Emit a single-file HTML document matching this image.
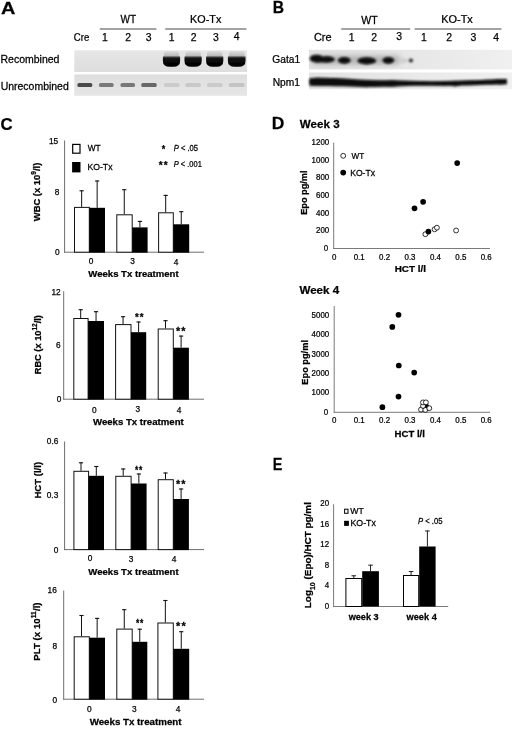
<!DOCTYPE html>
<html><head><meta charset="utf-8"><style>
html,body{margin:0;padding:0;background:#fff;}
body{width:520px;height:734px;overflow:hidden;}
svg{display:block;filter:grayscale(1) blur(0.3px);}
text{font-family:"Liberation Sans", sans-serif;fill:#000;stroke:#000;stroke-width:0.25px;}
</style></head><body>
<svg width="520" height="734" viewBox="0 0 520 734">
<defs>
<filter id="b1" x="-20%" y="-20%" width="140%" height="140%"><feGaussianBlur stdDeviation="0.75"/></filter>
<filter id="b2" x="-20%" y="-80%" width="140%" height="260%"><feGaussianBlur stdDeviation="0.65"/></filter>
<filter id="b3" x="-10%" y="-60%" width="120%" height="220%"><feGaussianBlur stdDeviation="1.1"/></filter>
<filter id="b4" x="-20%" y="-100%" width="140%" height="300%"><feGaussianBlur stdDeviation="2.5"/></filter>
<linearGradient id="bandTop" x1="0" y1="0" x2="0" y2="1">
<stop offset="0" stop-color="#dcdcdc"/><stop offset="0.5" stop-color="#c0c0c0"/><stop offset="1" stop-color="#7a7a7a"/></linearGradient>
<linearGradient id="bandBot" x1="0" y1="0" x2="0" y2="1">
<stop offset="0" stop-color="#484848"/><stop offset="0.22" stop-color="#0c0c0c"/><stop offset="1" stop-color="#000"/></linearGradient>
<linearGradient id="gelA1" x1="0" y1="0" x2="0" y2="1"><stop offset="0" stop-color="#e6e6e6"/><stop offset="1" stop-color="#dedede"/></linearGradient>
<linearGradient id="gelA2" x1="0" y1="0" x2="0" y2="1"><stop offset="0" stop-color="#dedede"/><stop offset="1" stop-color="#e6e6e6"/></linearGradient>
<linearGradient id="blot1" x1="0" y1="0" x2="1" y2="0"><stop offset="0" stop-color="#e0e0e0"/><stop offset="0.45" stop-color="#e6e6e6"/><stop offset="1" stop-color="#f0f0f0"/></linearGradient>
<linearGradient id="blot2" x1="0" y1="0" x2="1" y2="0"><stop offset="0" stop-color="#e2e2e2"/><stop offset="0.45" stop-color="#e8e8e8"/><stop offset="1" stop-color="#f0f0f0"/></linearGradient>
</defs>
<line x1="99.8" y1="29.0" x2="156.4" y2="29.0" stroke="#858585" stroke-width="1.4"/>
<line x1="165.2" y1="29.0" x2="246.4" y2="29.0" stroke="#858585" stroke-width="1.4"/>
<rect x="74.3" y="50.3" width="172.7" height="21.7" fill="url(#gelA1)"/>
<rect x="74.3" y="74.4" width="172.7" height="21.4" fill="url(#gelA2)"/>
<g filter="url(#b1)"><rect x="163.79999999999998" y="51.2" width="15.400000000000023" height="8" rx="2.5" fill="url(#bandTop)"/><path d="M162.89999999999998 56.6 h17.200000000000024 v4.4 q0 5.8 -6.8 5.8 h-3.6000000000000227 q-6.8 0 -6.8 -5.8 z" fill="url(#bandBot)"/></g>
<g filter="url(#b1)"><rect x="185.4" y="51.2" width="15.399999999999995" height="8" rx="2.5" fill="url(#bandTop)"/><path d="M184.5 56.6 h17.199999999999996 v4.4 q0 5.8 -6.8 5.8 h-3.5999999999999943 q-6.8 0 -6.8 -5.8 z" fill="url(#bandBot)"/></g>
<g filter="url(#b1)"><rect x="207.0" y="51.2" width="15.399999999999995" height="8" rx="2.5" fill="url(#bandTop)"/><path d="M206.1 56.6 h17.199999999999996 v4.4 q0 5.8 -6.8 5.8 h-3.5999999999999943 q-6.8 0 -6.8 -5.8 z" fill="url(#bandBot)"/></g>
<g filter="url(#b1)"><rect x="228.79999999999998" y="51.2" width="15.8" height="8" rx="2.5" fill="url(#bandTop)"/><path d="M227.89999999999998 56.6 h17.6 v4.4 q0 5.8 -6.8 5.8 h-4.0 q-6.8 0 -6.8 -5.8 z" fill="url(#bandBot)"/></g>
<rect x="77.4" y="83.0" width="14.899999999999991" height="4.0" rx="1.6" fill="#4c4c4c" filter="url(#b2)"/>
<rect x="99" y="83.0" width="14.599999999999994" height="4.0" rx="1.6" fill="#7a7a7a" filter="url(#b2)"/>
<rect x="120.5" y="83.0" width="14.5" height="4.0" rx="1.6" fill="#787878" filter="url(#b2)"/>
<rect x="141.3" y="83.0" width="15.399999999999977" height="4.0" rx="1.6" fill="#686868" filter="url(#b2)"/>
<rect x="164" y="83.0" width="15.5" height="4.0" rx="1.6" fill="#cbcbcb" filter="url(#b2)"/>
<rect x="185.5" y="83.0" width="15.300000000000011" height="4.0" rx="1.6" fill="#c8c8c8" filter="url(#b2)"/>
<rect x="207" y="83.0" width="15.599999999999994" height="4.0" rx="1.6" fill="#cacaca" filter="url(#b2)"/>
<rect x="228.8" y="83.0" width="15.799999999999983" height="4.0" rx="1.6" fill="#c4c4c4" filter="url(#b2)"/>
<line x1="341.2" y1="29.0" x2="410.2" y2="29.0" stroke="#858585" stroke-width="1.4"/>
<line x1="414.6" y1="29.0" x2="501.5" y2="29.0" stroke="#858585" stroke-width="1.4"/>
<rect x="309" y="49.8" width="203" height="19.6" fill="url(#blot1)"/>
<rect x="309" y="72.5" width="203" height="16.7" fill="url(#blot2)"/>
<g filter="url(#b4)" fill="#b4b4b4"><rect x="312" y="55.5" width="88" height="9" rx="4"/></g>
<g filter="url(#b3)" fill="#080808"><ellipse cx="316.5" cy="58.6" rx="6.8" ry="3.9"/><ellipse cx="327.5" cy="59.4" rx="7.2" ry="3.1"/><rect x="316" y="56.6" width="12" height="5.8"/><ellipse cx="344.3" cy="60.4" rx="6.3" ry="3.3"/><ellipse cx="366.8" cy="60.8" rx="9.4" ry="3.6"/><ellipse cx="388.3" cy="60.3" rx="5.8" ry="3.4"/><ellipse cx="410.8" cy="60.4" rx="2.4" ry="2" fill="#3a3a3a"/><ellipse cx="403" cy="60.6" rx="5" ry="2.4" fill="#cfcfcf"/></g>
<g filter="url(#b3)" fill="#080808"><path d="M309.5 78.2 C325 77.2, 340 78.2, 358 79.6 C375 80.6, 395 80.2, 420 81 C440 81.5, 460 80.5, 480 80 C495 79.5, 503 78.8, 507 79.2 L507 84.2 C495 84.6, 480 85, 462 85.6 C450 86.2, 435 85.8, 420 85.8 C400 86, 385 87.2, 365 87 C345 86.5, 325 86.2, 309.5 85.8 Z"/><ellipse cx="318" cy="81.8" rx="9" ry="4"/><ellipse cx="334" cy="82" rx="7" ry="3.6"/><ellipse cx="366" cy="83.8" rx="8" ry="3.4"/><ellipse cx="392" cy="83.4" rx="8" ry="3.2"/><ellipse cx="455" cy="83.6" rx="7" ry="2.8"/><ellipse cx="500" cy="81.8" rx="6" ry="2.8"/></g>
<line x1="64.6" y1="140.5" x2="64.6" y2="252.7" stroke="#6e6e6e" stroke-width="1"/>
<line x1="64.1" y1="252.2" x2="204" y2="252.2" stroke="#6e6e6e" stroke-width="1"/>
<line x1="81.65" y1="190.3" x2="81.65" y2="206.9" stroke="#111" stroke-width="1"/>
<line x1="79.55000000000001" y1="190.8" x2="83.75" y2="190.8" stroke="#111" stroke-width="1.1"/>
<line x1="97.15" y1="180.5" x2="97.15" y2="207.8" stroke="#111" stroke-width="1"/>
<line x1="95.05000000000001" y1="181.0" x2="99.25" y2="181.0" stroke="#111" stroke-width="1.1"/>
<rect x="74.5" y="207.4" width="14.799999999999997" height="44.79999999999998" fill="#fff" stroke="#111" stroke-width="1"/>
<rect x="89.3" y="207.8" width="15.700000000000003" height="44.89999999999998" fill="#000"/>
<line x1="124.25" y1="189.2" x2="124.25" y2="214.3" stroke="#111" stroke-width="1"/>
<line x1="122.15" y1="189.7" x2="126.35" y2="189.7" stroke="#111" stroke-width="1.1"/>
<line x1="139.89999999999998" y1="220.9" x2="139.89999999999998" y2="227.4" stroke="#111" stroke-width="1"/>
<line x1="137.79999999999998" y1="221.4" x2="141.99999999999997" y2="221.4" stroke="#111" stroke-width="1.1"/>
<rect x="116.8" y="214.8" width="15.399999999999991" height="37.39999999999998" fill="#fff" stroke="#111" stroke-width="1"/>
<rect x="132.2" y="227.4" width="15.400000000000006" height="25.299999999999983" fill="#000"/>
<line x1="165.7" y1="194.9" x2="165.7" y2="212.3" stroke="#111" stroke-width="1"/>
<line x1="163.6" y1="195.4" x2="167.79999999999998" y2="195.4" stroke="#111" stroke-width="1.1"/>
<line x1="181.25" y1="211.2" x2="181.25" y2="224.3" stroke="#111" stroke-width="1"/>
<line x1="179.15" y1="211.7" x2="183.35" y2="211.7" stroke="#111" stroke-width="1.1"/>
<rect x="158.6" y="212.8" width="14.700000000000017" height="39.39999999999998" fill="#fff" stroke="#111" stroke-width="1"/>
<rect x="173.3" y="224.3" width="15.899999999999977" height="28.399999999999977" fill="#000"/>
<line x1="63.7" y1="291.2" x2="63.7" y2="399.7" stroke="#6e6e6e" stroke-width="1"/>
<line x1="63.2" y1="399.2" x2="204" y2="399.2" stroke="#6e6e6e" stroke-width="1"/>
<line x1="80.69999999999999" y1="309.2" x2="80.69999999999999" y2="318" stroke="#111" stroke-width="1"/>
<line x1="78.6" y1="309.7" x2="82.79999999999998" y2="309.7" stroke="#111" stroke-width="1.1"/>
<line x1="96.05" y1="311.2" x2="96.05" y2="321" stroke="#111" stroke-width="1"/>
<line x1="93.95" y1="311.7" x2="98.14999999999999" y2="311.7" stroke="#111" stroke-width="1.1"/>
<rect x="73.8" y="318.5" width="14.299999999999997" height="80.69999999999999" fill="#fff" stroke="#111" stroke-width="1"/>
<rect x="88.1" y="321" width="15.900000000000006" height="78.69999999999999" fill="#000"/>
<line x1="123.05" y1="316.2" x2="123.05" y2="324.1" stroke="#111" stroke-width="1"/>
<line x1="120.95" y1="316.7" x2="125.14999999999999" y2="316.7" stroke="#111" stroke-width="1.1"/>
<line x1="138.6" y1="321.5" x2="138.6" y2="332.2" stroke="#111" stroke-width="1"/>
<line x1="136.5" y1="322.0" x2="140.7" y2="322.0" stroke="#111" stroke-width="1.1"/>
<rect x="115.6" y="324.6" width="15.400000000000006" height="74.59999999999997" fill="#fff" stroke="#111" stroke-width="1"/>
<rect x="131" y="332.2" width="15.199999999999989" height="67.5" fill="#000"/>
<line x1="165.5" y1="320.2" x2="165.5" y2="328.5" stroke="#111" stroke-width="1"/>
<line x1="163.4" y1="320.7" x2="167.6" y2="320.7" stroke="#111" stroke-width="1.1"/>
<line x1="181.10000000000002" y1="335.6" x2="181.10000000000002" y2="347.7" stroke="#111" stroke-width="1"/>
<line x1="179.00000000000003" y1="336.1" x2="183.20000000000002" y2="336.1" stroke="#111" stroke-width="1.1"/>
<rect x="158.2" y="329.0" width="15.100000000000023" height="70.19999999999999" fill="#fff" stroke="#111" stroke-width="1"/>
<rect x="173.3" y="347.7" width="15.599999999999994" height="52.0" fill="#000"/>
<line x1="64.6" y1="441.5" x2="64.6" y2="550.1" stroke="#6e6e6e" stroke-width="1"/>
<line x1="64.1" y1="549.6" x2="204" y2="549.6" stroke="#6e6e6e" stroke-width="1"/>
<line x1="81.0" y1="462.3" x2="81.0" y2="470.8" stroke="#111" stroke-width="1"/>
<line x1="78.9" y1="462.8" x2="83.1" y2="462.8" stroke="#111" stroke-width="1.1"/>
<line x1="96.3" y1="466" x2="96.3" y2="475.8" stroke="#111" stroke-width="1"/>
<line x1="94.2" y1="466.5" x2="98.39999999999999" y2="466.5" stroke="#111" stroke-width="1.1"/>
<rect x="73.9" y="471.3" width="14.699999999999989" height="78.30000000000001" fill="#fff" stroke="#111" stroke-width="1"/>
<rect x="88.6" y="475.8" width="15.400000000000006" height="74.30000000000001" fill="#000"/>
<line x1="123.19999999999999" y1="468.5" x2="123.19999999999999" y2="475.8" stroke="#111" stroke-width="1"/>
<line x1="121.1" y1="469.0" x2="125.29999999999998" y2="469.0" stroke="#111" stroke-width="1.1"/>
<line x1="138.85" y1="473.5" x2="138.85" y2="483.5" stroke="#111" stroke-width="1"/>
<line x1="136.75" y1="474.0" x2="140.95" y2="474.0" stroke="#111" stroke-width="1.1"/>
<rect x="115.8" y="476.3" width="15.299999999999997" height="73.30000000000001" fill="#fff" stroke="#111" stroke-width="1"/>
<rect x="131.1" y="483.5" width="15.5" height="66.60000000000002" fill="#000"/>
<line x1="165.5" y1="472.5" x2="165.5" y2="479.2" stroke="#111" stroke-width="1"/>
<line x1="163.4" y1="473.0" x2="167.6" y2="473.0" stroke="#111" stroke-width="1.1"/>
<line x1="181.10000000000002" y1="488.5" x2="181.10000000000002" y2="499" stroke="#111" stroke-width="1"/>
<line x1="179.00000000000003" y1="489.0" x2="183.20000000000002" y2="489.0" stroke="#111" stroke-width="1.1"/>
<rect x="158.2" y="479.7" width="15.100000000000023" height="69.90000000000003" fill="#fff" stroke="#111" stroke-width="1"/>
<rect x="173.3" y="499" width="15.599999999999994" height="51.10000000000002" fill="#000"/>
<line x1="63.7" y1="590.6" x2="63.7" y2="699.7" stroke="#6e6e6e" stroke-width="1"/>
<line x1="63.2" y1="699.2" x2="204" y2="699.2" stroke="#6e6e6e" stroke-width="1"/>
<line x1="81.5" y1="615" x2="81.5" y2="636.3" stroke="#111" stroke-width="1"/>
<line x1="79.4" y1="615.5" x2="83.6" y2="615.5" stroke="#111" stroke-width="1.1"/>
<line x1="97.15" y1="617.9" x2="97.15" y2="637.7" stroke="#111" stroke-width="1"/>
<line x1="95.05000000000001" y1="618.4" x2="99.25" y2="618.4" stroke="#111" stroke-width="1.1"/>
<rect x="74.2" y="636.8" width="15.099999999999994" height="62.40000000000009" fill="#fff" stroke="#111" stroke-width="1"/>
<rect x="89.3" y="637.7" width="15.700000000000003" height="62.0" fill="#000"/>
<line x1="124.25" y1="609.2" x2="124.25" y2="628.6" stroke="#111" stroke-width="1"/>
<line x1="122.15" y1="609.7" x2="126.35" y2="609.7" stroke="#111" stroke-width="1.1"/>
<line x1="139.75" y1="628.7" x2="139.75" y2="641.8" stroke="#111" stroke-width="1"/>
<line x1="137.65" y1="629.2" x2="141.85" y2="629.2" stroke="#111" stroke-width="1.1"/>
<rect x="116.8" y="629.1" width="15.399999999999991" height="70.10000000000002" fill="#fff" stroke="#111" stroke-width="1"/>
<rect x="132.2" y="641.8" width="15.100000000000023" height="57.90000000000009" fill="#000"/>
<line x1="165.35000000000002" y1="600" x2="165.35000000000002" y2="622.5" stroke="#111" stroke-width="1"/>
<line x1="163.25000000000003" y1="600.5" x2="167.45000000000002" y2="600.5" stroke="#111" stroke-width="1.1"/>
<line x1="181.25" y1="631.2" x2="181.25" y2="648.8" stroke="#111" stroke-width="1"/>
<line x1="179.15" y1="631.7" x2="183.35" y2="631.7" stroke="#111" stroke-width="1.1"/>
<rect x="157.9" y="623.0" width="15.400000000000006" height="76.20000000000005" fill="#fff" stroke="#111" stroke-width="1"/>
<rect x="173.3" y="648.8" width="15.899999999999977" height="50.90000000000009" fill="#000"/>
<rect x="72.7" y="144.4" width="7.3" height="8.8" fill="#fff" stroke="#000" stroke-width="1.2"/>
<rect x="72.1" y="162.0" width="8.4" height="10.4" fill="#000"/>
<line x1="333.7" y1="142.7" x2="333.7" y2="249.0" stroke="#7a7a7a" stroke-width="1"/>
<line x1="333.2" y1="248.5" x2="490" y2="248.5" stroke="#7a7a7a" stroke-width="1"/>
<circle cx="425.4" cy="234.2" r="2.45" fill="#fff" stroke="#000" stroke-width="0.8"/>
<circle cx="434.6" cy="229.3" r="2.45" fill="#fff" stroke="#000" stroke-width="0.8"/>
<circle cx="436.9" cy="227.7" r="2.45" fill="#fff" stroke="#000" stroke-width="0.8"/>
<circle cx="456.1" cy="230.5" r="2.45" fill="#fff" stroke="#000" stroke-width="0.8"/>
<circle cx="457.2" cy="163.1" r="2.85" fill="#000"/>
<circle cx="423.1" cy="201.8" r="2.85" fill="#000"/>
<circle cx="414.5" cy="208.3" r="2.85" fill="#000"/>
<circle cx="428.4" cy="231.6" r="2.85" fill="#000"/>
<circle cx="343.2" cy="155.8" r="2.45" fill="#fff" stroke="#000" stroke-width="0.8"/>
<circle cx="343.2" cy="172.6" r="2.85" fill="#000"/>
<line x1="334.2" y1="306" x2="334.2" y2="412.8" stroke="#7a7a7a" stroke-width="1"/>
<line x1="333.7" y1="412.3" x2="490" y2="412.3" stroke="#7a7a7a" stroke-width="1"/>
<circle cx="398.5" cy="314.8" r="2.85" fill="#000"/>
<circle cx="392.3" cy="326.9" r="2.85" fill="#000"/>
<circle cx="398.8" cy="365.5" r="2.85" fill="#000"/>
<circle cx="414.2" cy="372.6" r="2.85" fill="#000"/>
<circle cx="398.5" cy="396.6" r="2.85" fill="#000"/>
<circle cx="382.4" cy="407.2" r="2.85" fill="#000"/>
<circle cx="426.2" cy="406.7" r="2.85" fill="#000"/>
<circle cx="421" cy="409.6" r="2.45" fill="#fff" stroke="#000" stroke-width="0.8"/>
<circle cx="425.3" cy="409.9" r="2.45" fill="#fff" stroke="#000" stroke-width="0.8"/>
<circle cx="429.3" cy="408.2" r="2.45" fill="#fff" stroke="#000" stroke-width="0.8"/>
<circle cx="423" cy="405.9" r="2.45" fill="#fff" stroke="#000" stroke-width="0.8"/>
<circle cx="423" cy="402.4" r="2.45" fill="#fff" stroke="#000" stroke-width="0.8"/>
<circle cx="425.9" cy="402.4" r="2.45" fill="#fff" stroke="#000" stroke-width="0.8"/>
<line x1="333.6" y1="504.2" x2="333.6" y2="607.0" stroke="#7a7a7a" stroke-width="1"/>
<line x1="333.1" y1="606.5" x2="448.2" y2="606.5" stroke="#7a7a7a" stroke-width="1"/>
<line x1="353.79999999999995" y1="575.3" x2="353.79999999999995" y2="578" stroke="#222" stroke-width="1"/>
<line x1="351.49999999999994" y1="575.8" x2="356.09999999999997" y2="575.8" stroke="#222" stroke-width="1"/>
<rect x="345.9" y="578.5" width="15.800000000000011" height="28.0" fill="#fff" stroke="#000" stroke-width="1"/>
<line x1="370.54999999999995" y1="564.7" x2="370.54999999999995" y2="571.2" stroke="#222" stroke-width="1"/>
<line x1="368.24999999999994" y1="565.2" x2="372.84999999999997" y2="565.2" stroke="#222" stroke-width="1"/>
<rect x="362.2" y="571.2" width="16.69999999999999" height="35.299999999999955" fill="#000"/>
<line x1="411.1" y1="571" x2="411.1" y2="575" stroke="#222" stroke-width="1"/>
<line x1="408.8" y1="571.5" x2="413.40000000000003" y2="571.5" stroke="#222" stroke-width="1"/>
<rect x="403.5" y="575.5" width="15.199999999999989" height="31.0" fill="#fff" stroke="#000" stroke-width="1"/>
<line x1="427.4" y1="530.5" x2="427.4" y2="546.5" stroke="#222" stroke-width="1"/>
<line x1="425.09999999999997" y1="531.0" x2="429.7" y2="531.0" stroke="#222" stroke-width="1"/>
<rect x="419.2" y="546.5" width="16.400000000000034" height="60.0" fill="#000"/>
<rect x="344.6" y="509.2" width="3.4" height="4.1" fill="#fff" stroke="#000" stroke-width="1"/>
<rect x="344.1" y="520.8" width="4.8" height="5.1" fill="#000"/>
<text transform="translate(1.03,13.75) scale(1.170,1.000)" font-size="17" text-anchor="start" font-weight="bold">A</text>
<text transform="translate(272.77,13.45) scale(0.920,1.000)" font-size="17" text-anchor="start" font-weight="bold">B</text>
<text transform="translate(0.58,129.64) scale(0.986,1.000)" font-size="17" text-anchor="start" font-weight="bold">C</text>
<text transform="translate(271.85,129.45) scale(1.028,1.000)" font-size="17" text-anchor="start" font-weight="bold">D</text>
<text transform="translate(272.79,470.10) scale(0.849,1.000)" font-size="17" text-anchor="start" font-weight="bold">E</text>
<text transform="translate(128.30,23.44) scale(0.962,1.000)" font-size="10.4" text-anchor="middle">WT</text>
<text transform="translate(205.69,23.21) scale(1.039,1.000)" font-size="10.4" text-anchor="middle">KO-Tx</text>
<text transform="translate(81.56,40.84) scale(0.923,1.000)" font-size="10.4" text-anchor="middle">Cre</text>
<text transform="translate(104.93,40.77)" font-size="10.4" text-anchor="middle">1</text>
<text transform="translate(128.05,40.78)" font-size="10.4" text-anchor="middle">2</text>
<text transform="translate(148.68,40.58)" font-size="10.4" text-anchor="middle">3</text>
<text transform="translate(171.54,40.89)" font-size="10.4" text-anchor="middle">1</text>
<text transform="translate(193.53,40.88)" font-size="10.4" text-anchor="middle">2</text>
<text transform="translate(215.79,40.68)" font-size="10.4" text-anchor="middle">3</text>
<text transform="translate(236.62,40.47)" font-size="10.4" text-anchor="middle">4</text>
<text transform="translate(0.54,63.36) scale(1.010,1.000)" font-size="10.4" text-anchor="start">Recombined</text>
<text transform="translate(0.63,89.53) scale(1.008,1.000)" font-size="10.4" text-anchor="start">Unrecombined</text>
<text transform="translate(369.38,23.86) scale(1.018,1.000)" font-size="10.4" text-anchor="middle">WT</text>
<text transform="translate(457.00,23.26) scale(1.055,1.000)" font-size="10.4" text-anchor="middle">KO-Tx</text>
<text transform="translate(322.74,40.86) scale(1.052,1.000)" font-size="10.4" text-anchor="middle">Cre</text>
<text transform="translate(351.71,40.72)" font-size="10.4" text-anchor="middle">1</text>
<text transform="translate(374.13,40.78)" font-size="10.4" text-anchor="middle">2</text>
<text transform="translate(399.02,40.17)" font-size="10.4" text-anchor="middle">3</text>
<text transform="translate(423.88,40.89)" font-size="10.4" text-anchor="middle">1</text>
<text transform="translate(449.25,40.88)" font-size="10.4" text-anchor="middle">2</text>
<text transform="translate(473.45,41.44)" font-size="10.4" text-anchor="middle">3</text>
<text transform="translate(496.02,41.17)" font-size="10.4" text-anchor="middle">4</text>
<text transform="translate(272.34,63.22) scale(0.982,1.000)" font-size="10.4" text-anchor="start">Gata1</text>
<text transform="translate(272.71,85.78) scale(0.986,1.000)" font-size="10.4" text-anchor="start">Npm1</text>
<text transform="translate(58.14,143.51)" font-size="8.3" text-anchor="end">15</text>
<text transform="translate(59.41,195.15)" font-size="8.3" text-anchor="end">8</text>
<text transform="translate(59.54,254.77)" font-size="8.3" text-anchor="end">0</text>
<text transform="translate(91.05,264.18)" font-size="8.3" text-anchor="middle">0</text>
<text transform="translate(132.67,264.38)" font-size="8.3" text-anchor="middle">3</text>
<text transform="translate(176.04,264.58)" font-size="8.3" text-anchor="middle">4</text>
<text transform="translate(133.45,276.88) scale(0.994,1.000)" font-size="9.65" text-anchor="middle" font-weight="bold">Weeks Tx treatment</text>
<text transform="translate(39.76,191.94) rotate(-90) scale(0.951,1.000)" font-size="9.9" text-anchor="middle" font-weight="bold">WBC (x 10<tspan font-size="7" dy="-4">9</tspan><tspan dy="4">/l)</tspan></text>
<text transform="translate(60.74,294.72)" font-size="8.3" text-anchor="end">12</text>
<text transform="translate(60.60,348.23)" font-size="8.3" text-anchor="end">6</text>
<text transform="translate(61.40,402.40)" font-size="8.3" text-anchor="end">0</text>
<text transform="translate(139.19,321.06) scale(0.925,1.000)" font-size="10.5" text-anchor="middle" font-weight="bold"><tspan letter-spacing="1">*</tspan>*</text>
<text transform="translate(180.82,335.15) scale(1.034,1.000)" font-size="10.5" text-anchor="middle" font-weight="bold"><tspan letter-spacing="1">*</tspan>*</text>
<text transform="translate(94.22,412.83)" font-size="8.3" text-anchor="middle">0</text>
<text transform="translate(137.93,412.28)" font-size="8.3" text-anchor="middle">3</text>
<text transform="translate(179.15,412.77)" font-size="8.3" text-anchor="middle">4</text>
<text transform="translate(138.34,424.84)" font-size="9.65" text-anchor="middle" font-weight="bold">Weeks Tx treatment</text>
<text transform="translate(40.59,344.65) rotate(-90) scale(0.935,1.000)" font-size="9.9" text-anchor="middle" font-weight="bold">RBC (x 10<tspan font-size="7" dy="-4">12</tspan><tspan dy="4">/l)</tspan></text>
<text transform="translate(58.31,444.05)" font-size="8.3" text-anchor="end">0.6</text>
<text transform="translate(58.27,498.33)" font-size="8.3" text-anchor="end">0.3</text>
<text transform="translate(58.25,553.09)" font-size="8.3" text-anchor="end">0</text>
<text transform="translate(138.63,473.53) scale(0.811,1.000)" font-size="10.5" text-anchor="middle" font-weight="bold"><tspan letter-spacing="1">*</tspan>*</text>
<text transform="translate(180.82,488.00) scale(1.034,1.000)" font-size="10.5" text-anchor="middle" font-weight="bold"><tspan letter-spacing="1">*</tspan>*</text>
<text transform="translate(90.15,561.43)" font-size="8.3" text-anchor="middle">0</text>
<text transform="translate(131.04,561.80)" font-size="8.3" text-anchor="middle">3</text>
<text transform="translate(174.04,562.06)" font-size="8.3" text-anchor="middle">4</text>
<text transform="translate(133.45,574.83) scale(0.994,1.000)" font-size="9.65" text-anchor="middle" font-weight="bold">Weeks Tx treatment</text>
<text transform="translate(40.53,480.23) rotate(-90) scale(0.968,1.000)" font-size="9.9" text-anchor="middle" font-weight="bold">HCT (l/l)</text>
<text transform="translate(56.80,593.43)" font-size="8.3" text-anchor="end">16</text>
<text transform="translate(57.24,648.79)" font-size="8.3" text-anchor="end">8</text>
<text transform="translate(57.22,703.38)" font-size="8.3" text-anchor="end">0</text>
<text transform="translate(139.63,626.88) scale(0.811,1.000)" font-size="10.5" text-anchor="middle" font-weight="bold"><tspan letter-spacing="1">*</tspan>*</text>
<text transform="translate(180.87,630.32) scale(1.038,1.000)" font-size="10.5" text-anchor="middle" font-weight="bold"><tspan letter-spacing="1">*</tspan>*</text>
<text transform="translate(89.19,711.70)" font-size="8.3" text-anchor="middle">0</text>
<text transform="translate(134.36,711.91)" font-size="8.3" text-anchor="middle">3</text>
<text transform="translate(178.04,711.63)" font-size="8.3" text-anchor="middle">4</text>
<text transform="translate(135.58,724.97) scale(1.012,1.000)" font-size="9.65" text-anchor="middle" font-weight="bold">Weeks Tx treatment</text>
<text transform="translate(40.08,631.58) rotate(-90) scale(0.981,1.000)" font-size="9.9" text-anchor="middle" font-weight="bold">PLT (x 10<tspan font-size="7" dy="-4">11</tspan><tspan dy="4">/l)</tspan></text>
<text transform="translate(87.69,151.36) scale(0.979,1.000)" font-size="8.5" text-anchor="start">WT</text>
<text transform="translate(87.47,170.16) scale(1.020,1.000)" font-size="8.5" text-anchor="start">KO-Tx</text>
<text transform="translate(163.41,153.35) scale(0.787,1.000)" font-size="11.5" text-anchor="middle" font-weight="bold">*</text>
<text transform="translate(163.16,168.72) scale(0.953,1.000)" font-size="10.5" text-anchor="middle" font-weight="bold"><tspan letter-spacing="1">*</tspan>*</text>
<text transform="translate(173.80,150.89) scale(0.894,1.000)" font-size="8.5" text-anchor="start"><tspan font-style="italic">P</tspan> &lt; .05</text>
<text transform="translate(173.76,166.71) scale(0.882,1.000)" font-size="8.5" text-anchor="start"><tspan font-style="italic">P</tspan> &lt; .001</text>
<text transform="translate(299.83,128.40) scale(1.018,1.000)" font-size="11.4" text-anchor="start" font-weight="bold">Week 3</text>
<text transform="translate(328.20,251.20) scale(0.900,1.000)" font-size="8.8" text-anchor="end">0</text>
<text transform="translate(329.20,233.49) scale(0.900,1.000)" font-size="8.8" text-anchor="end">200</text>
<text transform="translate(329.20,215.78) scale(0.900,1.000)" font-size="8.8" text-anchor="end">400</text>
<text transform="translate(329.20,198.07) scale(0.900,1.000)" font-size="8.8" text-anchor="end">600</text>
<text transform="translate(329.20,180.36) scale(0.900,1.000)" font-size="8.8" text-anchor="end">800</text>
<text transform="translate(329.20,162.65) scale(0.900,1.000)" font-size="8.8" text-anchor="end">1000</text>
<text transform="translate(329.20,144.94) scale(0.900,1.000)" font-size="8.8" text-anchor="end">1200</text>
<text transform="translate(334.20,259.70) scale(0.900,1.000)" font-size="8.8" text-anchor="middle">0</text>
<text transform="translate(359.20,259.70) scale(0.900,1.000)" font-size="8.8" text-anchor="middle">0.1</text>
<text transform="translate(384.60,259.70) scale(0.900,1.000)" font-size="8.8" text-anchor="middle">0.2</text>
<text transform="translate(410.00,259.70) scale(0.900,1.000)" font-size="8.8" text-anchor="middle">0.3</text>
<text transform="translate(435.40,259.70) scale(0.900,1.000)" font-size="8.8" text-anchor="middle">0.4</text>
<text transform="translate(460.80,259.70) scale(0.900,1.000)" font-size="8.8" text-anchor="middle">0.5</text>
<text transform="translate(486.20,259.70) scale(0.900,1.000)" font-size="8.8" text-anchor="middle">0.6</text>
<text transform="translate(410.34,272.20) scale(1.067,1.000)" font-size="9.3" text-anchor="middle" font-weight="bold">HCT l/l</text>
<text transform="translate(307.42,192.63) rotate(-90) scale(0.980,1.000)" font-size="9.4" text-anchor="middle" font-weight="bold">Epo pg/ml</text>
<text transform="translate(351.43,158.95) scale(0.961,1.000)" font-size="8.5" text-anchor="start">WT</text>
<text transform="translate(350.16,175.59) scale(1.012,1.000)" font-size="8.5" text-anchor="start">KO-Tx</text>
<text transform="translate(299.38,293.60) scale(1.019,1.000)" font-size="11.4" text-anchor="start" font-weight="bold">Week 4</text>
<text transform="translate(328.20,414.50) scale(0.900,1.000)" font-size="8.8" text-anchor="end">0</text>
<text transform="translate(329.20,395.20) scale(0.900,1.000)" font-size="8.8" text-anchor="end">1000</text>
<text transform="translate(329.20,375.90) scale(0.900,1.000)" font-size="8.8" text-anchor="end">2000</text>
<text transform="translate(329.20,356.60) scale(0.900,1.000)" font-size="8.8" text-anchor="end">3000</text>
<text transform="translate(329.20,337.30) scale(0.900,1.000)" font-size="8.8" text-anchor="end">4000</text>
<text transform="translate(329.20,318.00) scale(0.900,1.000)" font-size="8.8" text-anchor="end">5000</text>
<text transform="translate(334.20,422.70) scale(0.900,1.000)" font-size="8.8" text-anchor="middle">0</text>
<text transform="translate(359.20,422.70) scale(0.900,1.000)" font-size="8.8" text-anchor="middle">0.1</text>
<text transform="translate(384.60,422.70) scale(0.900,1.000)" font-size="8.8" text-anchor="middle">0.2</text>
<text transform="translate(410.00,422.70) scale(0.900,1.000)" font-size="8.8" text-anchor="middle">0.3</text>
<text transform="translate(435.40,422.70) scale(0.900,1.000)" font-size="8.8" text-anchor="middle">0.4</text>
<text transform="translate(460.80,422.70) scale(0.900,1.000)" font-size="8.8" text-anchor="middle">0.5</text>
<text transform="translate(486.20,422.70) scale(0.900,1.000)" font-size="8.8" text-anchor="middle">0.6</text>
<text transform="translate(409.73,436.52) scale(1.028,1.000)" font-size="9.3" text-anchor="middle" font-weight="bold">HCT l/l</text>
<text transform="translate(307.81,362.35) rotate(-90) scale(0.983,1.000)" font-size="9.4" text-anchor="middle" font-weight="bold">Epo pg/ml</text>
<text transform="translate(329.10,608.90) scale(0.900,1.000)" font-size="8.8" text-anchor="end">0</text>
<text transform="translate(329.10,588.38) scale(0.900,1.000)" font-size="8.8" text-anchor="end">4</text>
<text transform="translate(329.10,567.86) scale(0.900,1.000)" font-size="8.8" text-anchor="end">8</text>
<text transform="translate(329.10,547.34) scale(0.900,1.000)" font-size="8.8" text-anchor="end">12</text>
<text transform="translate(329.10,526.82) scale(0.900,1.000)" font-size="8.8" text-anchor="end">16</text>
<text transform="translate(329.10,506.30) scale(0.900,1.000)" font-size="8.8" text-anchor="end">20</text>
<text transform="translate(418.02,524.19) scale(0.903,1.000)" font-size="8.5" text-anchor="start"><tspan font-style="italic">P</tspan> &lt; .05</text>
<text transform="translate(363.66,619.75) scale(0.987,1.000)" font-size="9.3" text-anchor="middle" font-weight="bold">week 3</text>
<text transform="translate(421.66,619.53) scale(0.993,1.000)" font-size="9.3" text-anchor="middle" font-weight="bold">week 4</text>
<text transform="translate(350.18,514.00) scale(1.029,1.000)" font-size="8.5" text-anchor="start">WT</text>
<text transform="translate(350.48,526.21) scale(1.032,1.000)" font-size="8.5" text-anchor="start">KO-Tx</text>
<text transform="translate(311.31,555.16) rotate(-90) scale(1.010,1.000)" font-size="9.8" text-anchor="middle" font-weight="bold">Log<tspan font-size="7" dy="3.5">10</tspan><tspan dy="-3.5"> (Epo)/HCT pg/ml</tspan></text>
</svg>
</body></html>
